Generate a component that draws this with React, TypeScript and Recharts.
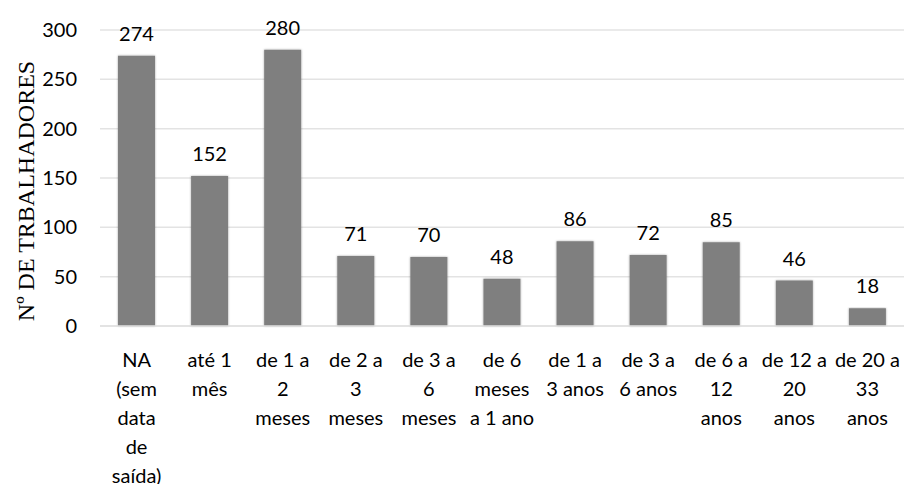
import React from 'react';
import { BarChart, Bar, XAxis, YAxis, CartesianGrid, LabelList } from 'recharts';

// categorias (já quebradas em linhas como no gráfico original)
const categories = [
  'NA|(sem|data|de|saída)',
  'até 1|mês',
  'de 1 a|2|meses',
  'de 2 a|3|meses',
  'de 3 a|6|meses',
  'de 6|meses|a 1 ano',
  'de 1 a|3 anos',
  'de 3 a|6 anos',
  'de 6 a|12|anos',
  'de 12 a|20|anos',
  'de 20 a|33|anos',
];
const trabalhadores = [274, 152, 280, 71, 70, 48, 86, 72, 85, 46, 18];
const yTicks = [0, 50, 100, 150, 200, 250, 300];

const data = categories.map((c, i) => ({ name: c, value: trabalhadores[i] }));

const FONT = 'Lato, "Open Sans", sans-serif';

const CategoryTick = (props: any) => {
  const { x, y, payload } = props;
  const lines = String(payload.value).split('|');
  return (
    <g transform={`translate(${x},${y})`}>
      {lines.map((l, i) => (
        <text
          key={i}
          x={0}
          y={25 + i * 29}
          textAnchor="middle"
          dominantBaseline="central"
          fill="#000"
          fontSize={20}
          fontFamily={FONT}
        >
          {l}
        </text>
      ))}
    </g>
  );
};

export default function App() {
  return (
    <div style={{ position: 'absolute', left: 0, top: 0, width: 905, height: 484, background: '#fff' }}>
      <BarChart
        width={905}
        height={484}
        data={data}
        margin={{ top: 30, right: 1, left: 0, bottom: 0 }}
      >
        <defs>
          <filter id="barShadow" x="-20%" y="-5%" width="140%" height="110%">
            <feDropShadow dx="0" dy="0" stdDeviation="1.2" floodColor="#000" floodOpacity="0.35" />
          </filter>
        </defs>
        <CartesianGrid vertical={false} stroke="#e3e3e3" strokeWidth={1.5} />
        <XAxis
          dataKey="name"
          interval={0}
          height={158}
          axisLine={{ stroke: '#e0e0e0', strokeWidth: 1.5 }}
          tickLine={false}
          tick={<CategoryTick />}
        />
        <YAxis
          width={100}
          domain={[0, 300]}
          ticks={yTicks}
          axisLine={false}
          tickLine={false}
          tickSize={0}
          tickMargin={23}
          tick={{ fill: '#000', fontSize: 20, fontFamily: FONT }}
          label={{
            value: 'Nº DE TRBALHADORES',
            angle: -90,
            position: 'insideLeft',
            dx: 20,
            dy: 13,
            style: { fontFamily: '"Liberation Serif", "Times New Roman", serif', fontSize: 24, fill: '#000', textAnchor: 'middle' },
          }}
        />
        <Bar dataKey="value" fill="#7f7f7f" barSize={37} isAnimationActive={false} filter="url(#barShadow)">
          <LabelList
            dataKey="value"
            position="top"
            offset={15}
            fill="#000"
            fontSize={20}
            fontFamily={FONT}
          />
        </Bar>
      </BarChart>
    </div>
  );
}
